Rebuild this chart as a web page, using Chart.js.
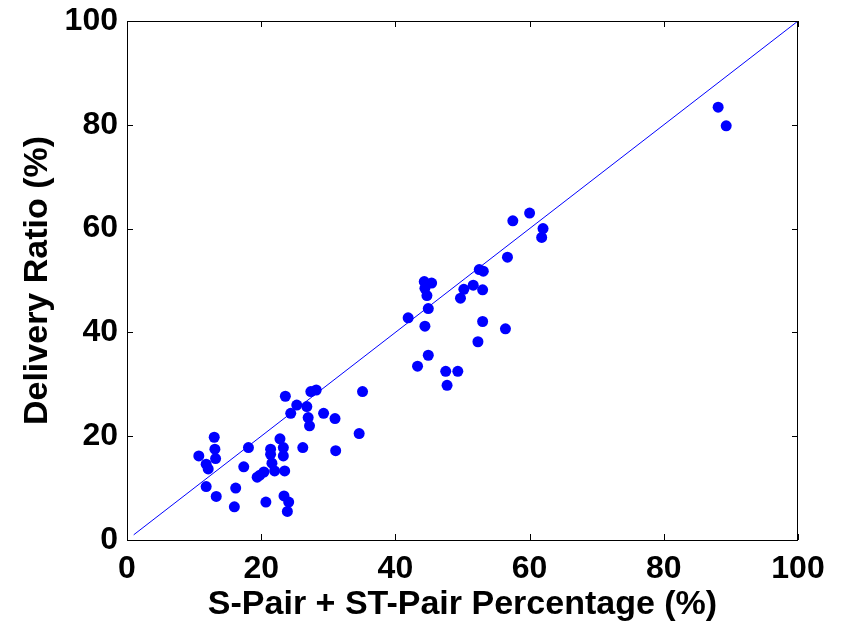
<!DOCTYPE html>
<html>
<head>
<meta charset="utf-8">
<style>
  html, body { margin: 0; padding: 0; background: #fff; }
  #wrap { width: 844px; height: 622px; }
</style>
<script src="https://cdn.jsdelivr.net/npm/chart.js@4/dist/chart.umd.min.js"></script>
</head>
<body>
<div id="wrap"><canvas id="chart" width="844" height="622"></canvas></div>
<script>
// Scatter data
var pairPct = [
    88.1, 89.3,
    57.5, 60.0, 62.0, 61.8, 56.7, 52.5, 53.1, 44.3, 45.4, 44.4, 44.7, 50.2, 51.6,
    53.0, 49.7, 44.9, 41.9, 44.4, 53.0, 56.4, 52.3, 44.9, 43.3, 47.5, 49.3, 47.7,
    23.6, 27.4, 28.2, 35.1, 25.3, 26.8, 24.4, 29.3, 31.0, 27.0, 27.2, 34.6, 13.0,
    22.8, 13.1, 18.1, 21.4, 23.3, 26.2, 31.1, 10.7, 13.2, 21.4, 23.3, 11.8, 12.1,
    17.4, 21.6, 22.0, 23.5, 20.4, 19.8, 19.4, 11.8, 16.2, 13.3, 23.4, 20.7, 24.1,
    16.0, 23.9
];
var deliveryRatio = [
    83.4, 79.8,
    61.5, 63.0, 60.0, 58.3, 54.5, 52.1, 51.8, 49.8, 49.5, 48.5, 47.1, 48.3, 49.1,
    48.2, 46.6, 44.6, 42.8, 41.2, 42.1, 40.7, 38.2, 35.6, 33.5, 32.5, 32.5, 29.8,
    27.7, 28.6, 28.9, 28.6, 26.0, 25.7, 24.4, 24.4, 23.4, 23.6, 22.0, 20.5, 19.8,
    19.5, 17.5, 17.8, 17.5, 17.8, 17.8, 17.2, 16.2, 15.7, 16.5, 16.2, 14.6, 13.7,
    14.1, 14.8, 13.3, 13.3, 13.1, 12.5, 12.1, 10.3, 10.0, 8.4, 8.5, 7.3, 7.3,
    6.4, 5.5
];
// y = x reference line
var refX = [1, 100];
var refY = [1, 100];
var tickValues = [0, 20, 40, 60, 80, 100];

var FONT = "'Liberation Sans', Arial, sans-serif";
var BLUE = "#0000FF";

var points = pairPct.map(function (x, i) { return { x: x, y: deliveryRatio[i] }; });
var refLine = refX.map(function (x, i) { return { x: x, y: refY[i] }; });

// MATLAB-style box with inward tick marks
var boxPlugin = {
    id: "box",
    afterDatasetsDraw: function (chart) {
        var ctx = chart.ctx, a = chart.chartArea;
        var sx = chart.scales.x, sy = chart.scales.y;
        ctx.save();
        ctx.strokeStyle = "#000";
        ctx.lineWidth = 1;
        ctx.strokeRect(a.left + 0.5, a.top + 0.5, a.right - a.left - 1, a.bottom - a.top);
        ctx.beginPath();
        tickValues.forEach(function (v) {
            var px = Math.round(sx.getPixelForValue(v)) + 0.5;
            ctx.moveTo(px, a.bottom); ctx.lineTo(px, a.bottom - 6);
            ctx.moveTo(px, a.top); ctx.lineTo(px, a.top + 6);
            var py = Math.round(sy.getPixelForValue(v)) + 0.5;
            ctx.moveTo(a.left, py); ctx.lineTo(a.left + 6, py);
            ctx.moveTo(a.right, py); ctx.lineTo(a.right - 6, py);
        });
        ctx.stroke();
        ctx.restore();
    }
};

function fixedTicks(s) {
    s.ticks = tickValues.map(function (v) { return { value: v }; });
}

new Chart(document.getElementById("chart"), {
    type: "scatter",
    data: {
        datasets: [{
            data: points,
            backgroundColor: BLUE,
            borderColor: BLUE,
            pointRadius: 5.5,
            borderWidth: 0
        }, {
            data: refLine,
            showLine: true,
            borderColor: BLUE,
            borderWidth: 1,
            pointRadius: 0
        }]
    },
    options: {
        responsive: false,
        animation: false,
        events: [],
        layout: { padding: { left: 0, right: 46, top: 21, bottom: 0 } },
        plugins: { legend: { display: false }, tooltip: { enabled: false } },
        scales: {
            x: {
                min: 0, max: 100,
                afterBuildTicks: fixedTicks,
                afterFit: function (s) {
                    s.height = 82;
                    s.paddingLeft = 0; s.paddingRight = 0;
                },
                grid: { display: false, drawTicks: false },
                border: { display: false },
                ticks: { padding: 10, color: "#000", maxRotation: 0, font: { family: FONT, size: 32, weight: "bold" } },
                title: {
                    display: true, text: "S-Pair + ST-Pair Percentage (%)", color: "#000",
                    padding: { top: 0, bottom: 0 },
                    font: { family: FONT, size: 34, weight: "bold", lineHeight: 1 }
                }
            },
            y: {
                min: 0, max: 100,
                afterBuildTicks: fixedTicks,
                afterFit: function (s) {
                    s.width = 127;
                    s.paddingTop = 0; s.paddingBottom = 0;
                },
                grid: { display: false, drawTicks: false },
                border: { display: false },
                ticks: { padding: 9, color: "#000", font: { family: FONT, size: 32, weight: "bold" } },
                title: {
                    display: true, text: "Delivery Ratio (%)", color: "#000",
                    padding: { top: 21, bottom: 0 },
                    font: { family: FONT, size: 34, weight: "bold", lineHeight: 1 }
                }
            }
        }
    },
    plugins: [boxPlugin]
});
</script>
</body>
</html>
